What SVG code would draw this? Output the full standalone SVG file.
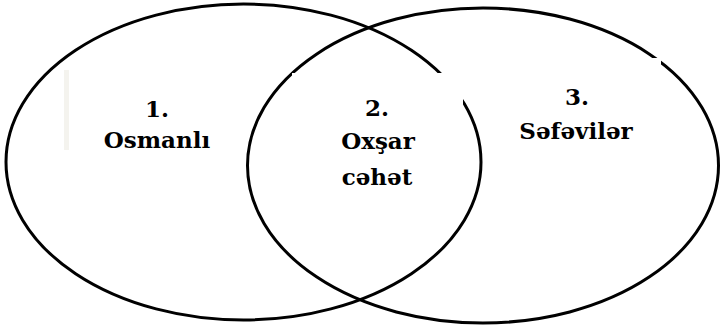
<svg xmlns="http://www.w3.org/2000/svg" width="720" height="333" viewBox="0 0 720 333">
<style>
.set{fill:none;stroke:#000;stroke-width:3}
.box{fill:#fff}
.lbl{font-family:"DejaVu Serif","Liberation Serif",serif;font-weight:bold;font-size:23px;fill:#000;text-anchor:middle}
</style>
<rect width="720" height="333" fill="#fff"/>
<g id="set-osmanli"><ellipse class="set" cx="243.5" cy="162" rx="237.5" ry="158"/></g>
<g id="set-sefeviler"><ellipse class="set" cx="483" cy="165.5" rx="235.5" ry="157.5"/></g>
<g id="connectors"/>
<g id="label-osmanli">
<rect x="64" y="70" width="5" height="80" fill="#f4f3ee"/>
<text class="lbl" x="157" y="117">1.</text>
<text class="lbl" x="157" y="148">Osmanlı</text>
</g>
<g id="label-oxsar">
<rect class="box" x="292" y="73" width="171" height="120"/>
<text class="lbl" x="377" y="116">2.</text>
<text class="lbl" x="378" y="149">Oxşar</text>
<text class="lbl" x="377" y="185">cəhət</text>
</g>
<g id="label-sefeviler">
<rect class="box" x="490" y="58" width="171" height="90"/>
<text class="lbl" x="577" y="105">3.</text>
<text class="lbl" x="576" y="139">Səfəvilər</text>
</g>
</svg>
